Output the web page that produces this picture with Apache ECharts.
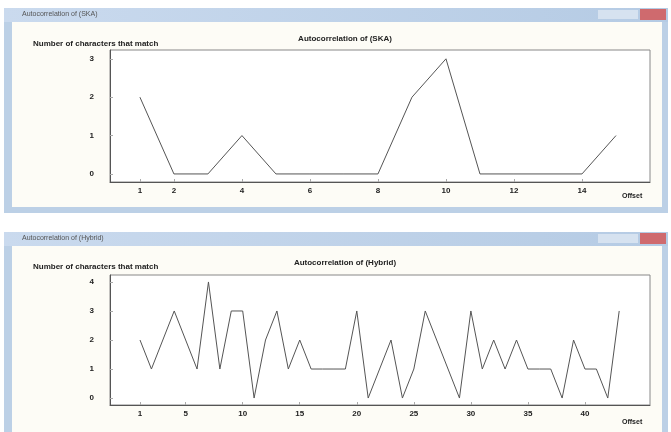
<!DOCTYPE html>
<html>
<head>
<meta charset="utf-8">
<script src="https://cdn.jsdelivr.net/npm/echarts@6/dist/echarts.min.js"></script>
<style>
  html, body { margin: 0; padding: 0; background: #fff; }
  #main { width: 671px; height: 432px; }
</style>
</head>
<body>
<div id="main"></div>
<script>
// top window: autocorrelation of (SKA)
var offsetsTop = [1, 2, 3, 4, 5, 6, 7, 8, 9, 10, 11, 12, 13, 14, 15];
var matchesTop = [2, 0, 0, 1, 0, 0, 0, 0, 2, 3, 0, 0, 0, 0, 1];
var xTicksTop = [1, 2, 4, 6, 8, 10, 12, 14];
var yTicksTop = [0, 1, 2, 3];

// bottom window: autocorrelation of (Hybrid)
var offsetsBottom = [];
for (var i = 1; i <= 43; i++) offsetsBottom.push(i);
var matchesBottom = [2, 1, 2, 3, 2, 1, 4, 1, 3, 3,
                     0, 2, 3, 1, 2, 1, 1, 1, 1, 3,
                     0, 1, 2, 0, 1, 3, 2, 1, 0, 3,
                     1, 2, 1, 2, 1, 1, 1, 0, 2, 1,
                     1, 0, 3];
var xTicksBottom = [1, 5, 10, 15, 20, 25, 30, 35, 40];
var yTicksBottom = [0, 1, 2, 3, 4];

var titles = ['Autocorrelation of (SKA)', 'Autocorrelation of (Hybrid)'];
var yName = 'Number of characters that match';

function pairs(xs, ys) {
    return xs.map(function (x, k) { return [x, ys[k]]; });
}

var font = 'Liberation Sans';
var small = { fontFamily: font, fontSize: 8, fontWeight: 'bold', color: '#222' };

// window chrome (not data)
function win(top, height, title) {
    return [
        { type: 'rect', z: -20, shape: { x: 4, y: top, width: 664, height: height },
          style: { fill: '#bcd0e6' } },
        { type: 'rect', z: -19, shape: { x: 4, y: top, width: 664, height: 14 },
          style: { fill: new echarts.graphic.LinearGradient(0, 0, 1, 0, [
              { offset: 0, color: '#cadaee' }, { offset: 1, color: '#b5cbe4' }]) } },
        { type: 'rect', z: -18, shape: { x: 12, y: top + 14, width: 650, height: height - 20 },
          style: { fill: '#fdfcf6' } },
        { type: 'rect', z: -17, shape: { x: 640, y: top + 1, width: 26, height: 11 },
          style: { fill: '#cf6a6e' } },
        { type: 'rect', z: -17, shape: { x: 598, y: top + 2, width: 40, height: 9 },
          style: { fill: '#d6e2f0' } },
        { type: 'text', z: -16, x: 22, y: top + 3,
          style: { text: 'Autocorrelation of ' + title.slice(title.indexOf('(')), font: '7px ' + font, fill: '#555' } }
    ];
}

var graphics = win(8, 205, titles[0]).concat(win(232, 206, titles[1]));
graphics.push({ type: 'text', x: 33, y: 40, style: { text: yName, font: 'bold 8px ' + font, fill: '#222' } });
graphics.push({ type: 'text', x: 33, y: 263, style: { text: yName, font: 'bold 8px ' + font, fill: '#222' } });
graphics.push({ type: 'text', x: 622, y: 193, style: { text: 'Offset', font: 'bold 7px ' + font, fill: '#222' } });
graphics.push({ type: 'text', x: 622, y: 419, style: { text: 'Offset', font: 'bold 7px ' + font, fill: '#222' } });

var option = {
    animation: false,
    backgroundColor: '#fff',
    title: [
        { text: titles[0], left: 340, top: 30, textAlign: 'center',
          textStyle: { fontFamily: font, fontSize: 8, fontWeight: 'bold', color: '#222' } },
        { text: titles[1], left: 340, top: 254, textAlign: 'center',
          textStyle: { fontFamily: font, fontSize: 8, fontWeight: 'bold', color: '#222' } }
    ],
    graphic: graphics,
    grid: [
        { left: 110, right: 21, top: 50, height: 132, show: true,
          backgroundColor: '#fff', borderColor: '#888', borderWidth: 1 },
        { left: 110, right: 21, top: 275, height: 130, show: true,
          backgroundColor: '#fff', borderColor: '#888', borderWidth: 1 }
    ],
    xAxis: [
        { type: 'value', gridIndex: 0, min: 0.12, max: 16,
          axisLine: { onZero: false, lineStyle: { color: '#555' } },
          axisTick: { show: true, inside: true, length: 3, customValues: xTicksTop, lineStyle: { color: '#aaa' } },
          axisLabel: Object.assign({ customValues: xTicksTop, margin: 5 }, small),
          splitLine: { show: false } },
        { type: 'value', gridIndex: 1, min: -1.63, max: 45.7,
          axisLine: { onZero: false, lineStyle: { color: '#555' } },
          axisTick: { show: true, inside: true, length: 3, customValues: xTicksBottom, lineStyle: { color: '#aaa' } },
          axisLabel: Object.assign({ customValues: xTicksBottom, margin: 5 }, small),
          splitLine: { show: false } }
    ],
    yAxis: [
        { type: 'value', gridIndex: 0, min: -0.21, max: 3.23,
          axisLine: { show: true, onZero: false, lineStyle: { color: '#555' } },
          axisTick: { show: true, inside: true, length: 3, customValues: yTicksTop, lineStyle: { color: '#aaa' } },
          axisLabel: Object.assign({ customValues: yTicksTop, margin: 16 }, small),
          splitLine: { show: false } },
        { type: 'value', gridIndex: 1, min: -0.24, max: 4.24,
          axisLine: { show: true, onZero: false, lineStyle: { color: '#555' } },
          axisTick: { show: true, inside: true, length: 3, customValues: yTicksBottom, lineStyle: { color: '#aaa' } },
          axisLabel: Object.assign({ customValues: yTicksBottom, margin: 16 }, small),
          splitLine: { show: false } }
    ],
    series: [
        { type: 'line', xAxisIndex: 0, yAxisIndex: 0, data: pairs(offsetsTop, matchesTop),
          showSymbol: false, lineStyle: { color: '#555', width: 1 } },
        { type: 'line', xAxisIndex: 1, yAxisIndex: 1, data: pairs(offsetsBottom, matchesBottom),
          showSymbol: false, lineStyle: { color: '#555', width: 1 } }
    ]
};

echarts.init(document.getElementById('main')).setOption(option);
</script>
</body>
</html>
